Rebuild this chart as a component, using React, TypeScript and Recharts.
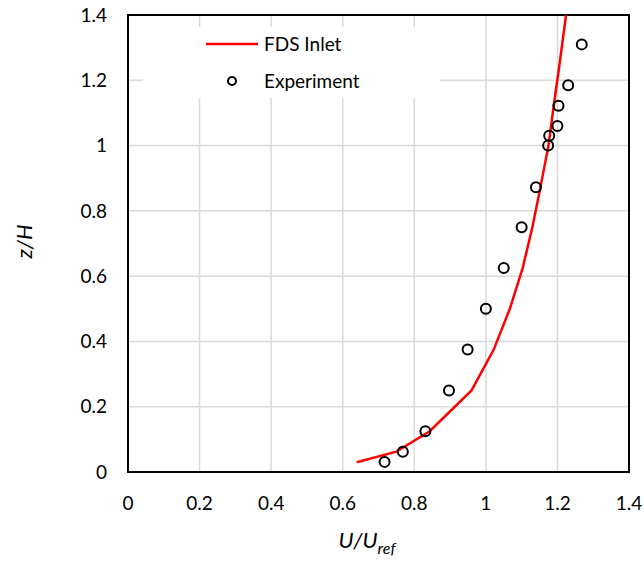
import {
  ComposedChart, Line, Scatter, XAxis, YAxis, CartesianGrid, ReferenceArea,
} from 'recharts';

const FONT = 'Lato, "Open Sans", sans-serif';

// FDS inlet profile (U/Uref vs z/H)
const fdsU = [0.639, 0.75, 0.843, 0.96, 1.022, 1.067, 1.103, 1.13, 1.153, 1.175, 1.19, 1.206, 1.224];
const fdsZ = [0.03, 0.0625, 0.125, 0.25, 0.375, 0.5, 0.625, 0.75, 0.875, 1.0, 1.125, 1.25, 1.4];

// Experiment
const expU = [0.717, 0.768, 0.831, 0.897, 0.949, 1.0, 1.05, 1.1, 1.14, 1.174, 1.177, 1.2, 1.203, 1.23, 1.268];
const expZ = [0.031, 0.062, 0.125, 0.25, 0.375, 0.5, 0.625, 0.75, 0.872, 1.0, 1.03, 1.06, 1.122, 1.185, 1.31];

const ticks = [0, 0.2, 0.4, 0.6, 0.8, 1, 1.2, 1.4];

const fdsData = fdsU.map((u, i) => ({ u, z: fdsZ[i] }));
const expData = expU.map((u, i) => ({ u, z: expZ[i] }));

const tickStyle = { fontSize: 19, fill: '#000', fontFamily: FONT };

function OpenCircle(props: any) {
  return <circle cx={props.cx} cy={props.cy} r={5} fill="none" stroke="#000" strokeWidth={2} />;
}

function LegendBox() {
  return (
    <div style={{ position: 'absolute', left: 143, top: 27, width: 297, height: 71, background: '#fff' }}>
      <svg width={297} height={71}>
        <line x1={63} y1={17} x2={115} y2={17} stroke="#ff0000" strokeWidth={2.5} />
        <circle cx={89} cy={54} r={4} fill="none" stroke="#000" strokeWidth={2} />
        <text x={121} y={17} dy="0.35em" fill="#000" style={{ fontFamily: FONT, fontSize: 19 }}>FDS Inlet</text>
        <text x={121} y={54} dy="0.35em" fill="#000" style={{ fontFamily: FONT, fontSize: 19 }}>Experiment</text>
      </svg>
    </div>
  );
}

function XTitle() {
  return (
    <text x={367} y={548} textAnchor="middle" style={{ fontFamily: FONT, fontSize: 22, fontStyle: 'italic' }} fill="#000">
      U/U<tspan fontSize={16} dy={6}>ref</tspan>
    </text>
  );
}

function YTitle(props: any) {
  const vb = props.viewBox;
  const cy = vb.y + vb.height / 2;
  return (
    <text x={0} y={0} transform={`translate(32, ${cy - 2}) rotate(-90)`} textAnchor="middle"
      style={{ fontFamily: FONT, fontSize: 22, fontStyle: 'italic' }} fill="#000">
      z/H
    </text>
  );
}

export default function App() {
  return (
    <div style={{ position: 'absolute', left: 0, top: 0, width: 644, height: 561, background: '#fff' }}>
      <ComposedChart width={644} height={561} margin={{ top: 15, right: 15, bottom: 0, left: 68 }}>
        <CartesianGrid stroke="#d9d9d9" strokeWidth={1.5} horizontalValues={ticks} verticalValues={ticks} />
        <XAxis
          type="number"
          dataKey="u"
          domain={[0, 1.4]}
          ticks={ticks}
          allowDataOverflow
          tickSize={0}
          tickMargin={25}
          tick={tickStyle}
          axisLine={false}
          height={89}
          label={<XTitle />}
        />
        <YAxis
          type="number"
          dataKey="z"
          domain={[0, 1.4]}
          ticks={ticks}
          allowDataOverflow
          tickSize={0}
          tickMargin={21}
          tick={tickStyle}
          axisLine={false}
          width={60}
          label={<YTitle />}
        />
        <ReferenceArea x1={0} x2={1.4} y1={0} y2={1.4} fill="none" stroke="#000" strokeWidth={2} />
        <Line data={fdsData} dataKey="z" type="linear" stroke="#ff0000" strokeWidth={2.5} dot={false} isAnimationActive={false} />
        <Scatter data={expData} dataKey="z" shape={<OpenCircle />} isAnimationActive={false} />
      </ComposedChart>
      <LegendBox />
    </div>
  );
}
